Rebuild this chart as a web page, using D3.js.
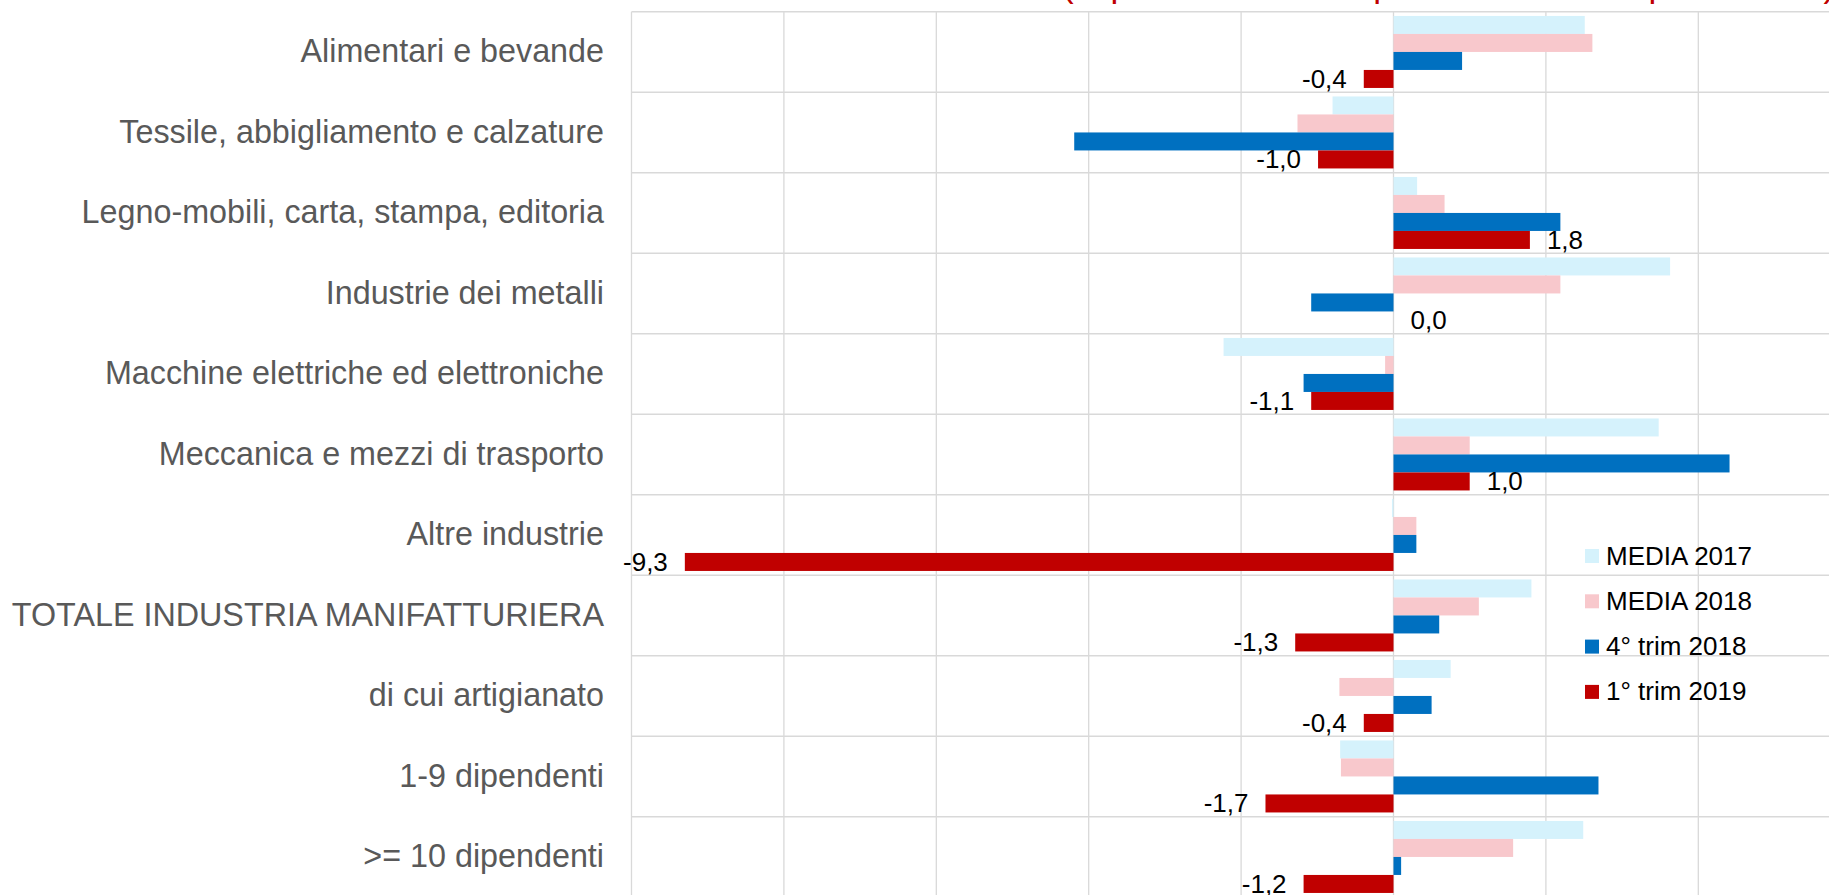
<!DOCTYPE html>
<html lang="it">
<head>
<meta charset="utf-8">
<script src="https://cdn.jsdelivr.net/npm/d3@7"></script>
<style>
  html, body { margin: 0; padding: 0; background: #fff; }
  svg { display: block; font-family: 'Liberation Sans', Arial, sans-serif; }
</style>
</head>
<body>
<div id="chart"></div>
<script>
const categories = [
  'Alimentari e bevande',
  'Tessile, abbigliamento e calzature',
  'Legno-mobili, carta, stampa, editoria',
  'Industrie dei metalli',
  'Macchine elettriche ed elettroniche',
  'Meccanica e mezzi di trasporto',
  'Altre industrie',
  'TOTALE INDUSTRIA MANIFATTURIERA',
  'di cui artigianato',
  '1-9 dipendenti',
  '>= 10 dipendenti',
];

const seriesNames = ['MEDIA 2017', 'MEDIA 2018', '4° trim 2018', '1° trim 2019'];

const media2017 = [2.51, -0.8, 0.31, 3.63, -2.23, 3.48, -0.02, 1.81, 0.75, -0.7, 2.49];
const media2018 = [2.61, -1.26, 0.67, 2.19, -0.11, 1.0, 0.3, 1.12, -0.71, -0.69, 1.57];
const trim4_2018 = [0.9, -4.19, 2.19, -1.08, -1.18, 4.41, 0.3, 0.6, 0.5, 2.69, 0.1];
const trim1_2019 = [-0.39, -0.99, 1.79, 0.0, -1.08, 1.0, -9.3, -1.29, -0.39, -1.68, -1.18];

const xTicks = [-10, -8, -6, -4, -2, 0, 2, 4, 6, 8];

const titleText = "(rispetto allo stesso periodo dell'anno precedente)";

const colors = ['#D5F2FC', '#F8C8CC', '#0070C0', '#C00000'];

const width = 1829;
const height = 895;

const seriesValues = [media2017, media2018, trim4_2018, trim1_2019];
const rows = categories.map((c, i) => ({
  category: c,
  values: seriesNames.map((s, j) => ({ series: s, value: seriesValues[j][i] })),
}));

const plot = { left: 631.5, top: 11.7, step: 80.5, unit: 76.2 };

const x = d3
  .scaleLinear()
  .domain([-10, 8])
  .range([plot.left, plot.left + 18 * plot.unit]);

const y = d3
  .scaleBand()
  .domain(categories)
  .range([plot.top, plot.top + categories.length * plot.step])
  .padding(0);

const ySub = d3
  .scaleBand()
  .domain(seriesNames)
  .range([0, y.bandwidth()])
  .paddingInner(0)
  .paddingOuter(0.236);

const color = d3.scaleOrdinal().domain(seriesNames).range(colors);

const fmt = (v) => d3.format('.1f')(v).replace('.', ',').replace('−', '-');

const svg = d3
  .select('#chart')
  .append('svg')
  .attr('width', width)
  .attr('height', height);

svg.append('rect').attr('width', width).attr('height', height).attr('fill', '#fff');

// title: only the descenders reach into the picture
svg
  .append('text')
  .attr('x', 1062)
  .attr('y', -3)
  .attr('fill', '#C00000')
  .attr('font-size', 35)
  .text(titleText);

// vertical gridlines
svg
  .append('g')
  .selectAll('line')
  .data(xTicks)
  .join('line')
  .attr('x1', (d) => x(d))
  .attr('x2', (d) => x(d))
  .attr('y1', plot.top)
  .attr('y2', y.range()[1])
  .attr('stroke', '#D9D9D9')
  .attr('stroke-width', 1.3);

// horizontal separators between categories
svg
  .append('g')
  .selectAll('line')
  .data(d3.range(categories.length + 1))
  .join('line')
  .attr('x1', plot.left)
  .attr('x2', width)
  .attr('y1', (i) => plot.top + i * y.step())
  .attr('y2', (i) => plot.top + i * y.step())
  .attr('stroke', '#D9D9D9')
  .attr('stroke-width', 1.6);

// category labels
svg
  .append('g')
  .selectAll('text')
  .data(categories)
  .join('text')
  .attr('x', 604)
  .attr('y', (d) => y(d) + y.bandwidth() / 2 + 10.5)
  .attr('text-anchor', 'end')
  .attr('fill', '#595959')
  .attr('font-size', 32.3)
  .text((d) => d);

// bars
const group = svg
  .append('g')
  .selectAll('g')
  .data(rows)
  .join('g')
  .attr('transform', (d) => `translate(0,${y(d.category)})`);

group
  .selectAll('rect')
  .data((d) => d.values)
  .join('rect')
  .attr('x', (d) => x(Math.min(0, d.value)))
  .attr('y', (d) => ySub(d.series))
  .attr('width', (d) => Math.abs(x(d.value) - x(0)))
  .attr('height', ySub.bandwidth())
  .attr('fill', (d) => color(d.series));

// data labels on the last series
const last = seriesNames[seriesNames.length - 1];
group
  .append('text')
  .datum((d) => d.values.find((v) => v.series === last))
  .attr('x', (d) => (d.value < 0 ? x(d.value) - 17 : x(d.value) + 17))
  .attr('y', (d) => ySub(d.series) + ySub.bandwidth() / 2 + 9)
  .attr('text-anchor', (d) => (d.value < 0 ? 'end' : 'start'))
  .attr('fill', '#000')
  .attr('font-size', 26)
  .text((d) => fmt(d.value));

// legend
const legend = svg
  .append('g')
  .selectAll('g')
  .data(seriesNames)
  .join('g')
  .attr('transform', (d, i) => `translate(1585,${556 + i * 45.3})`);

legend
  .append('rect')
  .attr('x', 0)
  .attr('y', -7)
  .attr('width', 14)
  .attr('height', 14)
  .attr('fill', (d) => color(d));

legend
  .append('text')
  .attr('x', 21)
  .attr('y', 8.5)
  .attr('fill', '#000')
  .attr('font-size', 26)
  .text((d) => d);
</script>
</body>
</html>
